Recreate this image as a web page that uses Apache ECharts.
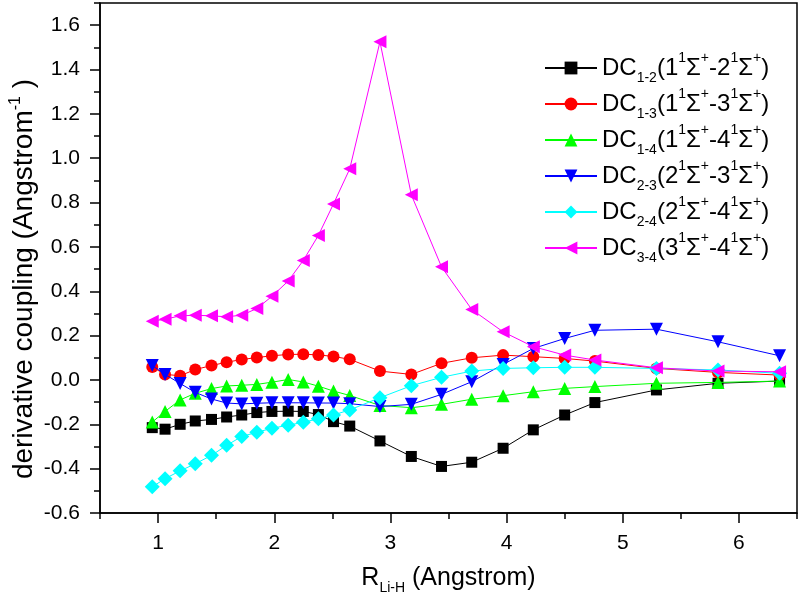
<!DOCTYPE html>
<html><head><meta charset="utf-8">
<script src="https://cdn.jsdelivr.net/npm/echarts@6/dist/echarts.min.js"></script>
<style>html,body{margin:0;padding:0;background:#fff}#c{width:800px;height:600px}</style>
</head><body><div id="c"></div>
<script>
// R(Li-H) in Angstrom
const rLiH = [0.95, 1.06, 1.19, 1.32, 1.46, 1.59, 1.72, 1.85, 1.98, 2.12, 2.25, 2.38, 2.51, 2.65, 2.91, 3.18, 3.44, 3.70, 3.97, 4.23, 4.50, 4.76, 5.29, 5.82, 6.35];
const dc12 = [-0.215, -0.222, -0.200, -0.185, -0.178, -0.167, -0.158, -0.147, -0.142, -0.141, -0.142, -0.156, -0.188, -0.208, -0.275, -0.345, -0.390, -0.371, -0.308, -0.225, -0.158, -0.102, -0.045, -0.015, -0.005];
const dc13 = [0.058, 0.025, 0.019, 0.047, 0.065, 0.080, 0.092, 0.101, 0.109, 0.115, 0.116, 0.113, 0.106, 0.093, 0.040, 0.025, 0.075, 0.100, 0.112, 0.105, 0.097, 0.085, 0.052, 0.034, 0.022];
const dc14 = [-0.190, -0.142, -0.090, -0.060, -0.039, -0.027, -0.024, -0.020, -0.010, 0.002, -0.009, -0.028, -0.050, -0.070, -0.115, -0.125, -0.110, -0.087, -0.071, -0.053, -0.038, -0.030, -0.015, -0.011, -0.005];
const dc23 = [0.065, 0.025, -0.016, -0.056, -0.086, -0.104, -0.108, -0.105, -0.103, -0.103, -0.103, -0.104, -0.104, -0.107, -0.120, -0.110, -0.065, -0.008, 0.070, 0.142, 0.187, 0.224, 0.229, 0.172, 0.109];
const dc24 = [-0.482, -0.445, -0.410, -0.378, -0.340, -0.295, -0.255, -0.236, -0.218, -0.204, -0.191, -0.175, -0.158, -0.135, -0.080, -0.026, 0.012, 0.040, 0.052, 0.055, 0.057, 0.057, 0.052, 0.045, 0.030];
const dc34 = [0.265, 0.274, 0.289, 0.292, 0.289, 0.285, 0.292, 0.322, 0.377, 0.446, 0.539, 0.652, 0.794, 0.952, 1.525, 0.835, 0.510, 0.318, 0.217, 0.150, 0.112, 0.090, 0.055, 0.040, 0.037];

const seriesValues = [dc12, dc13, dc14, dc23, dc24, dc34];
const seriesSubs = ['1-2', '1-3', '1-4', '2-3', '2-4', '3-4'];
const seriesStates = [['1', '2'], ['1', '3'], ['1', '4'], ['2', '3'], ['2', '4'], ['3', '4']];
const xMajorTicks = [1, 2, 3, 4, 5, 6];
const yMajorTicks = [-0.6, -0.4, -0.2, 0.0, 0.2, 0.4, 0.6, 0.8, 1.0, 1.2, 1.4, 1.6];

// styles
const seriesColors = ['#000000', '#ff0000', '#00ff00', '#0000ff', '#00ffff', '#ff00ff'];
const seriesSymbols = ['rect', 'circle', 'triangle', 'triangle', 'diamond', 'triangle'];
const seriesRotate = [0, 0, 0, 180, 0, 90];
const seriesSymbolSize = [11, 12, 13, 13, 15, 13];

const FONT = 'Liberation Sans, Arial, sans-serif';

const names = seriesSubs.map((s, i) => 'DC' + s + '(' + seriesStates[i][0] + '¹Σ⁺-' + seriesStates[i][1] + '¹Σ⁺)');
const richNames = {};
seriesSubs.forEach((s, i) => {
  richNames[names[i]] = '{m|DC}{sub|' + s + '}{m|(' + seriesStates[i][0] + '}{sup|1}{m|Σ}{sup|+}{m|-' +
    seriesStates[i][1] + '}{sup|1}{m|Σ}{sup|+}{m|)}';
});

const chart = echarts.init(document.getElementById('c'), null, {renderer: 'canvas'});
const axisCommon = {
  type: 'value',
  axisLine: {show: true, onZero: false, lineStyle: {color: '#000', width: 1.5}},
  splitLine: {show: false},
};
chart.setOption({
  animation: false,
  backgroundColor: '#fff',
  textStyle: {fontFamily: FONT},
  grid: {left: 97, right: 3, top: 3, bottom: 85, show: true, borderColor: '#000', borderWidth: 1.5, backgroundColor: 'transparent'},
  legend: {
    orient: 'vertical', left: 539, top: 46, itemWidth: 52, itemHeight: 16, itemGap: 2,
    data: names,
    formatter: n => richNames[n],
    textStyle: {
      fontFamily: FONT, fontSize: 24, color: '#000', lineHeight: 34,
      rich: {
        m: {fontFamily: FONT, fontSize: 24, color: '#000', lineHeight: 34, verticalAlign: 'middle'},
        sub: {fontFamily: FONT, fontSize: 14, color: '#000', lineHeight: 14, verticalAlign: 'bottom'},
        sup: {fontFamily: FONT, fontSize: 14, color: '#000', lineHeight: 22, verticalAlign: 'top'}
      }
    }
  },
  xAxis: [
    Object.assign({}, axisCommon, {
      min: 0.5, max: 6.5, interval: 0.5,
      axisTick: {show: true, inside: false, length: 6, lineStyle: {color: '#000', width: 1.5}},
      axisLabel: {show: false},
      name: '{m|R}{sub|Li-H}{m| (Angstrom)}',
      nameLocation: 'middle', nameGap: 48,
      nameTextStyle: {
        fontFamily: FONT, fontSize: 25, color: '#000', lineHeight: 34,
        rich: {
          m: {fontFamily: FONT, fontSize: 25, color: '#000', lineHeight: 34, verticalAlign: 'middle'},
          sub: {fontFamily: FONT, fontSize: 14, color: '#000', lineHeight: 14, verticalAlign: 'bottom'}
        }
      }
    }),
    Object.assign({}, axisCommon, {
      min: 0.5, max: 6.5, position: 'bottom',
      axisLine: {show: false, onZero: false},
      axisTick: {show: true, inside: false, length: 10, customValues: xMajorTicks, lineStyle: {color: '#000', width: 1.5}},
      axisLabel: {show: true, customValues: xMajorTicks, margin: 20, fontFamily: FONT, fontSize: 21, color: '#000'}
    })
  ],
  yAxis: [
    Object.assign({}, axisCommon, {
      min: -0.6, max: 1.7, interval: 0.1,
      axisTick: {show: true, inside: false, length: 6, lineStyle: {color: '#000', width: 1.5}},
      axisLabel: {show: false},
      name: '{m|derivative coupling (Angstrom}{sup|-1}{m| )}',
      nameLocation: 'middle', nameGap: 60, nameRotate: 90,
      nameTextStyle: {
        fontFamily: FONT, fontSize: 28, color: '#000', lineHeight: 32, padding: [0, 42, 0, 0],
        rich: {
          m: {fontFamily: FONT, fontSize: 28, color: '#000', lineHeight: 32, verticalAlign: 'middle'},
          sup: {fontFamily: FONT, fontSize: 16, color: '#000', lineHeight: 20, verticalAlign: 'top'}
        }
      }
    }),
    Object.assign({}, axisCommon, {
      min: -0.6, max: 1.7, position: 'left',
      axisLine: {show: false, onZero: false},
      axisTick: {show: true, inside: false, length: 10, customValues: yMajorTicks, lineStyle: {color: '#000', width: 1.5}},
      axisLabel: {show: true, customValues: yMajorTicks, margin: 20, fontFamily: FONT, fontSize: 21, color: '#000',
        formatter: v => Number(v).toFixed(1)}
    })
  ],
  series: seriesValues.map((vals, i) => ({
    name: names[i],
    type: 'line',
    xAxisIndex: 0, yAxisIndex: 0,
    data: rLiH.map((x, j) => [x, vals[j]]),
    symbol: seriesSymbols[i],
    symbolRotate: seriesRotate[i],
    symbolSize: seriesSymbolSize[i],
    showAllSymbol: true,
    lineStyle: {color: seriesColors[i], width: 1},
    itemStyle: {color: seriesColors[i], borderWidth: 0},
    emphasis: {disabled: true},
    z: 2 + i
  }))
});
</script></body></html>
